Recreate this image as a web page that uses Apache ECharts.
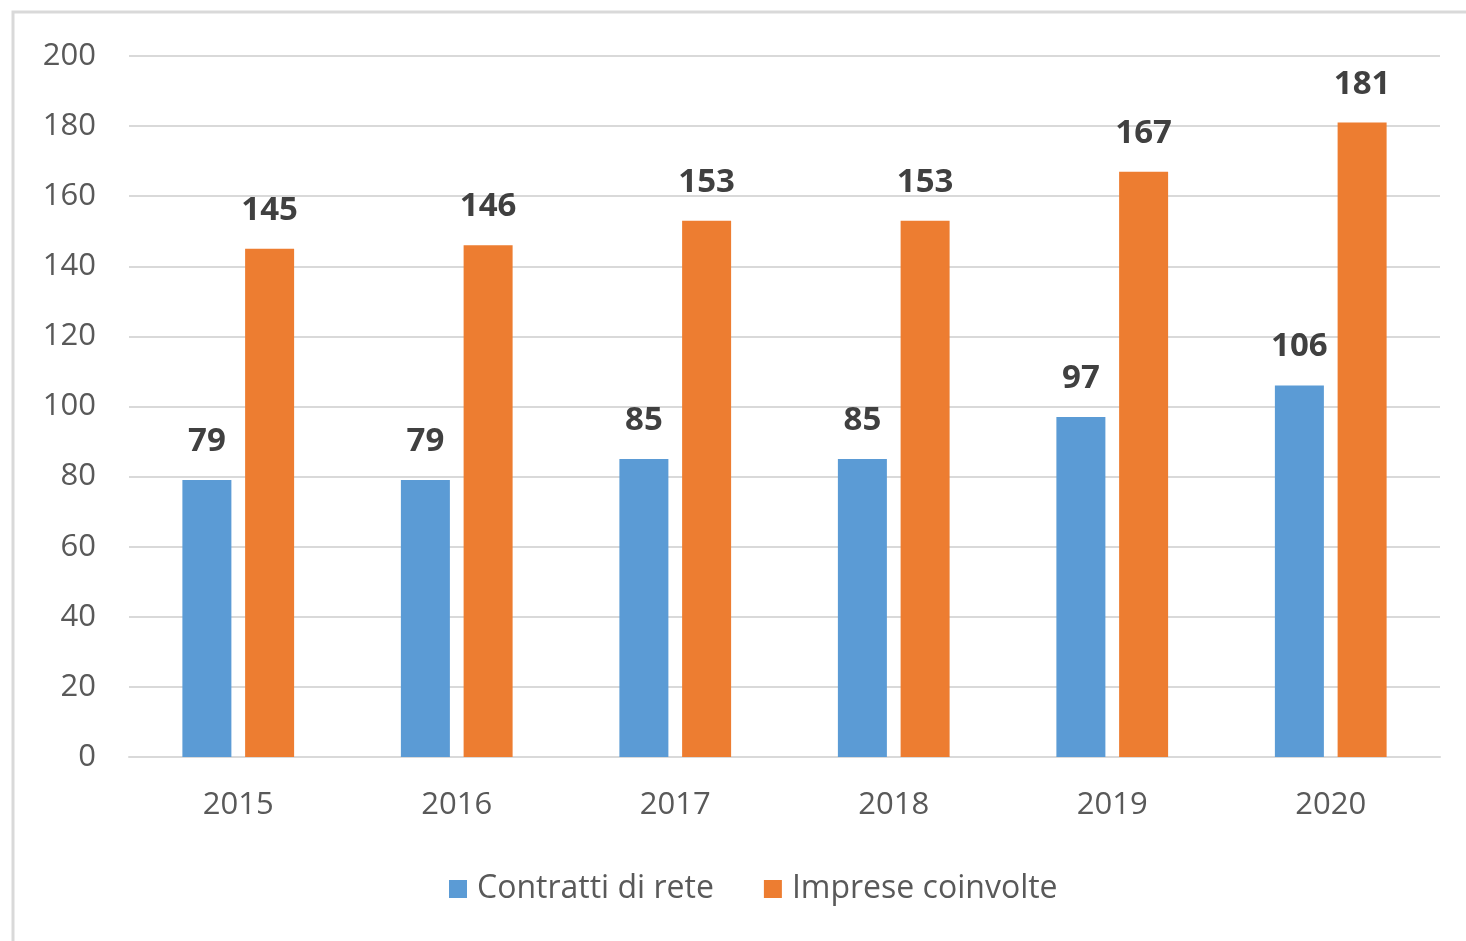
<!DOCTYPE html>
<html>
<head>
<meta charset="utf-8">
<script src="https://cdn.jsdelivr.net/npm/echarts@6/dist/echarts.min.js"></script>
<style>
html, body { margin: 0; padding: 0; background: #fff; }
#chart { width: 1466px; height: 941px; }
</style>
</head>
<body>
<div id="chart"></div>
<script>
var years = ['2015', '2016', '2017', '2018', '2019', '2020']
var contratti = [79, 79, 85, 85, 97, 106]
var imprese = [145, 146, 153, 153, 167, 181]
var seriesNames = ['Contratti di rete', 'Imprese coinvolte']

var font = '"Open Sans", "Noto Sans", sans-serif'
var labelStyle = {
    show: true,
    position: 'top',
    distance: 22,
    fontFamily: font,
    fontSize: 33,
    fontWeight: 'bold',
    color: '#404040'
}

var chart = echarts.init(document.getElementById('chart'))
chart.setOption({
    animation: false,
    textStyle: { fontFamily: font },
    graphic: [{
        type: 'rect',
        shape: { x: 13, y: 12, width: 1500, height: 1000 },
        style: { fill: 'none', stroke: '#d9d9d9', lineWidth: 3 },
        silent: true
    }],
    grid: { left: 129, right: 26, top: 56, bottom: 184 },
    legend: {
        left: 444,
        top: 868,
        itemWidth: 18,
        itemHeight: 18,
        itemGap: 50,
        icon: 'rect',
        textStyle: { fontSize: 32, color: '#595959', fontFamily: font, padding: [0, 0, 0, 5] },
        data: seriesNames
    },
    xAxis: {
        type: 'category',
        data: years,
        axisTick: { show: false },
        axisLine: { lineStyle: { color: '#d9d9d9', width: 2 } },
        axisLabel: { fontSize: 31, color: '#595959', margin: 33 }
    },
    yAxis: {
        type: 'value',
        min: 0,
        max: 200,
        interval: 20,
        axisLine: { show: false },
        axisTick: { show: false },
        splitLine: { lineStyle: { color: '#d9d9d9', width: 2 } },
        axisLabel: { fontSize: 31, color: '#595959', margin: 33 }
    },
    series: [
        {
            name: seriesNames[0],
            type: 'bar',
            data: contratti,
            barWidth: 49,
            barGap: '28%',
            itemStyle: { color: '#5B9BD5' },
            label: labelStyle
        },
        {
            name: seriesNames[1],
            type: 'bar',
            data: imprese,
            barWidth: 49,
            barGap: '28%',
            itemStyle: { color: '#ED7D31' },
            label: labelStyle
        }
    ]
})
</script>
</body>
</html>
